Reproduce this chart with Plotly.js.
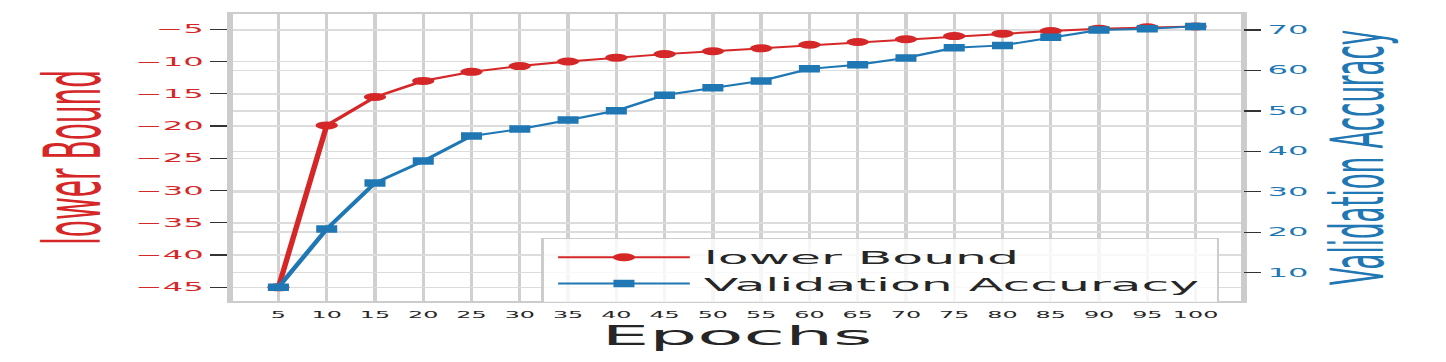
<!DOCTYPE html>
<html>
<head>
<meta charset="utf-8">
<script src="https://cdn.plot.ly/plotly-3.0.1.min.js"></script>
<style>
  html, body { margin: 0; padding: 0; background: #fff; overflow: hidden; }
  /* the reference figure is stretched sideways, so draw narrow and widen it */
  #chart { width: 516px; height: 362px; transform: scaleX(2.8023); transform-origin: 0 0; }
</style>
</head>
<body>
<div id="chart"></div>
<script>
const epochs = [5, 10, 15, 20, 25, 30, 35, 40, 45, 50, 55, 60, 65, 70, 75, 80, 85, 90, 95, 100];
const lowerBound = [-45, -19.9, -15.5, -13.0, -11.6, -10.7, -10.0, -9.4, -8.85, -8.4,
  -7.95, -7.4, -6.97, -6.55, -6.05, -5.68, -5.26, -4.9, -4.7, -4.55];
const valAcc = [6.4, 20.8, 32.2, 37.6, 43.8, 45.5, 47.75, 50.05, 53.9, 55.7,
  57.4, 60.4, 61.4, 63.1, 65.6, 66.2, 68.2, 70.0, 70.3, 70.9];
const leftTicks = [-5, -10, -15, -20, -25, -30, -35, -40, -45];
const rightTicks = [10, 20, 30, 40, 50, 60, 70];

const RED = '#d62728', BLUE = '#1f77b4', INK = '#262626';
const FONT = 'DejaVu Sans';

const traces = [
  {
    x: epochs, y: lowerBound, type: 'scatter', mode: 'lines+markers', name: 'lower Bound',
    line: { color: RED, width: 2 }, marker: { color: RED, size: 8, symbol: 'circle' },
    yaxis: 'y',
  },
  {
    x: epochs, y: valAcc, type: 'scatter', mode: 'lines+markers', name: 'Validation Accuracy',
    line: { color: BLUE, width: 2 }, marker: { color: BLUE, size: 7.5, symbol: 'square' },
    yaxis: 'y2',
  },
];

const layout = {
  width: 516, height: 362,
  paper_bgcolor: '#fff', plot_bgcolor: '#fff',
  font: { family: FONT, color: INK },
  margin: { l: 83, r: 73, t: 14, b: 61 },
  showlegend: true,
  legend: {
    x: 0.306, y: 0.2195, xanchor: 'left', yanchor: 'top',
    font: { size: 18, color: INK, family: FONT },
    bgcolor: 'rgba(255,255,255,0.8)', bordercolor: '#cccccc', borderwidth: 1,
    itemwidth: 47, tracegroupgap: 0,
  },
  xaxis: {
    range: [0.25, 104.75],
    tickvals: epochs, ticktext: epochs.map(String),
    tickfont: { size: 8.5, color: INK },
    ticks: '', ticklabelstandoff: 5,
    showgrid: true, gridcolor: '#d0d0d0', gridwidth: 1.2,
    showline: true, linecolor: '#cccccc', linewidth: 2, mirror: true,
    zeroline: false,
    title: { text: 'Epochs', font: { size: 27, color: INK }, standoff: 5 },
  },
  yaxis: {
    range: [-47.12, -2.63],
    tickvals: leftTicks,
    tickfont: { size: 11.5, color: RED },
    ticks: 'outside', ticklen: 6, tickwidth: 1.2, tickcolor: '#333',
    showgrid: true, gridcolor: '#dcdcdc', gridwidth: 1.5,
    showline: true, linecolor: '#cccccc', linewidth: 2, mirror: true,
    zeroline: false,
    title: { text: 'lower Bound', font: { size: 28, color: RED }, standoff: 4 },
  },
  yaxis2: {
    range: [3.0, 73.96],
    overlaying: 'y', side: 'right',
    tickvals: rightTicks,
    tickfont: { size: 11.5, color: BLUE },
    ticks: 'outside', ticklen: 6, tickwidth: 1.2, tickcolor: '#333',
    showgrid: true, gridcolor: '#dcdcdc', gridwidth: 1.5,
    showline: false, zeroline: false,
    title: { text: 'Validation Accuracy', font: { size: 26, color: BLUE }, standoff: 9 },
  },
};

Plotly.newPlot('chart', traces, layout, { displayModeBar: false, staticPlot: true });
</script>
</body>
</html>
